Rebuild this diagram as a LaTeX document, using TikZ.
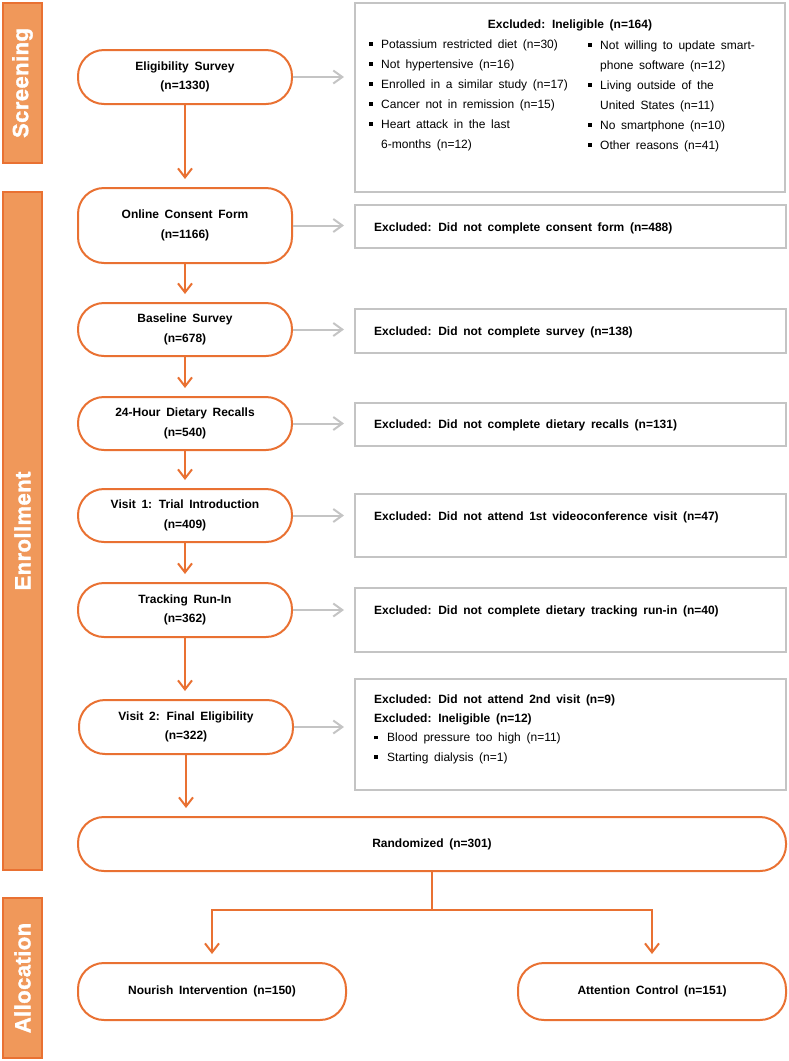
\documentclass[tikz,border=0pt]{standalone}
\usepackage{fontspec}
\setmainfont{Liberation Sans}[WordSpace=1.7]
\newfontfamily\barfont{Liberation Sans}[FakeBold=1.6,LetterSpace=2]
\usetikzlibrary{arrows.meta}
\definecolor{org}{HTML}{E97132}
\definecolor{barfill}{HTML}{F0985A}
\definecolor{gry}{HTML}{C4C4C4}
\newcommand{\bul}{\makebox[12pt][l]{\rule[2.5pt]{3.5pt}{3.5pt}}}
\newcommand{\bulsp}{\hspace*{12pt}}
\begin{document}
\begin{tikzpicture}[x=1pt,y=-1pt,
  every node/.style={font=\fontsize{12}{20}\selectfont},
  rbox/.style={draw=org, line width=2pt, rounded corners=26pt, fill=white, align=center,
    font=\bfseries\fontsize{12}{19.5}\selectfont, inner sep=0pt},
  gbox/.style={draw=gry, line width=2pt, inner sep=0pt},
  bar/.style={draw=org, fill=barfill, line width=2pt, inner sep=0pt},
  bartext/.style={rotate=90, text=white, inner sep=0pt,
    font=\barfont\bfseries\fontsize{22}{22}\selectfont},
  oarrow/.style={draw=org, line width=2pt, -{Straight Barb[length=9pt,width=14pt]}, shorten >=8pt},
  garrow/.style={draw=gry, line width=2pt, -{Straight Barb[length=9pt,width=13pt]}, shorten >=10pt},
  extext/.style={anchor=west, inner sep=0pt, font=\bfseries\fontsize{12}{20}\selectfont},
  ]
\useasboundingbox (0,0) rectangle (788,1061);

% side bars
\node[bar, minimum width=39pt, minimum height=160pt] (barS) at (22.5,83) {};
\node[bartext] (tS) at (barS.center) {Screening};
\node[bar, minimum width=39pt, minimum height=678pt] (barE) at (22.5,531) {};
\node[bartext] (tE) at (barE.center) {Enrollment};
\node[bar, minimum width=39pt, minimum height=160pt] (barA) at (22.5,978) {};
\node[bartext] (tA) at (barA.center) {Allocation};

% main flow
\node[rbox, minimum width=214pt, minimum height=54pt] (elig) at (185,77) {Eligibility Survey\\(n=1330)};
\node[rbox, minimum width=214pt, minimum height=75pt] (cons) at (185,225.5) {Online Consent Form\\(n=1166)};
\node[rbox, minimum width=214pt, minimum height=53pt] (base) at (185,329.5) {Baseline Survey\\(n=678)};
\node[rbox, minimum width=214pt, minimum height=53pt] (recall) at (185,423.5) {24-Hour Dietary Recalls\\(n=540)};
\node[rbox, minimum width=214pt, minimum height=53pt] (v1) at (185,515.5) {Visit 1: Trial Introduction\\(n=409)};
\node[rbox, minimum width=214pt, minimum height=54pt] (track) at (185,610) {Tracking Run-In\\(n=362)};
\node[rbox, minimum width=214pt, minimum height=54pt] (v2) at (186,727) {Visit 2: Final Eligibility\\(n=322)};
\node[rbox, minimum width=708pt, minimum height=54pt] (rand) at (432,844) {Randomized (n=301)};
\node[rbox, minimum width=268pt, minimum height=57pt] (nour) at (212,991.5) {Nourish Intervention (n=150)};
\node[rbox, minimum width=268pt, minimum height=57pt] (att) at (652,991.5) {Attention Control (n=151)};

% exclusion boxes
\node[gbox, minimum width=430pt, minimum height=189pt] (ex0) at (570,97.5) {};
\node[gbox, minimum width=431pt, minimum height=43pt] (ex1) at (570.5,226.5) {};
\node[gbox, minimum width=431pt, minimum height=44pt] (ex2) at (570.5,331) {};
\node[gbox, minimum width=431pt, minimum height=43pt] (ex3) at (570.5,424.5) {};
\node[gbox, minimum width=431pt, minimum height=63pt] (ex4) at (570.5,525.5) {};
\node[gbox, minimum width=431pt, minimum height=64pt] (ex5) at (570.5,620) {};
\node[gbox, minimum width=431pt, minimum height=111pt] (ex6) at (570.5,734.5) {};

% exclusion texts
\node[inner sep=0pt, font=\bfseries\fontsize{12}{20}\selectfont] (h0) at (570,25) {Excluded: Ineligible (n=164)};
\node[anchor=west, inner sep=0pt, align=left] (c0a) at (369,95) {%
\bul Potassium restricted diet (n=30)\\
\bul Not hypertensive (n=16)\\
\bul Enrolled in a similar study (n=17)\\
\bul Cancer not in remission (n=15)\\
\bul Heart attack in the last\\
\bulsp 6-months (n=12)};
\node[anchor=west, inner sep=0pt, align=left] (c0b) at (588,96) {%
\bul Not willing to update smart-\\
\bulsp phone software (n=12)\\
\bul Living outside of the\\
\bulsp United States (n=11)\\
\bul No smartphone (n=10)\\
\bul Other reasons (n=41)};
\node[extext] (t1) at (374,228) {Excluded: Did not complete consent form (n=488)};
\node[extext] (t2) at (374,332) {Excluded: Did not complete survey (n=138)};
\node[extext] (t3) at (374,425) {Excluded: Did not complete dietary recalls (n=131)};
\node[extext] (t4) at (374,517) {Excluded: Did not attend 1st videoconference visit (n=47)};
\node[extext] (t5) at (374,611) {Excluded: Did not complete dietary tracking run-in (n=40)};
\node[anchor=west, inner sep=0pt, align=left, font=\fontsize{12}{19.3}\selectfont] (t6) at (374,729) {%
\textbf{Excluded: Did not attend 2nd visit (n=9)}\\
\textbf{Excluded: Ineligible (n=12)}\\
\makebox[13pt][l]{\rule[2.5pt]{3.5pt}{3.5pt}}Blood pressure too high (n=11)\\
\makebox[13pt][l]{\rule[2.5pt]{3.5pt}{3.5pt}}Starting dialysis (n=1)};

% vertical flow arrows
\draw[oarrow] (elig.south) -- (cons.north);
\draw[oarrow] (cons.south) -- (base.north);
\draw[oarrow] (base.south) -- (recall.north);
\draw[oarrow] (recall.south) -- (v1.north);
\draw[oarrow] (v1.south) -- (track.north);
\draw[oarrow] (track.south) -- (track.south |- v2.north);
\draw[oarrow] (v2.south) -- (v2.south |- rand.north);
\coordinate (split) at (432,910);
\draw[oarrow] (rand.south) -- (split) -| (nour.north);
\draw[oarrow] (split) -| (att.north);

% exclusion arrows
\draw[garrow] (elig.east) -- (elig.east -| ex0.west);
\draw[garrow] (cons.east) -- (cons.east -| ex1.west);
\draw[garrow] (base.east) -- (base.east -| ex2.west);
\draw[garrow] (recall.east) -- (recall.east -| ex3.west);
\draw[garrow] (v1.east) -- (v1.east -| ex4.west);
\draw[garrow] (track.east) -- (track.east -| ex5.west);
\draw[garrow] (v2.east) -- (v2.east -| ex6.west);
\end{tikzpicture}
\end{document}
